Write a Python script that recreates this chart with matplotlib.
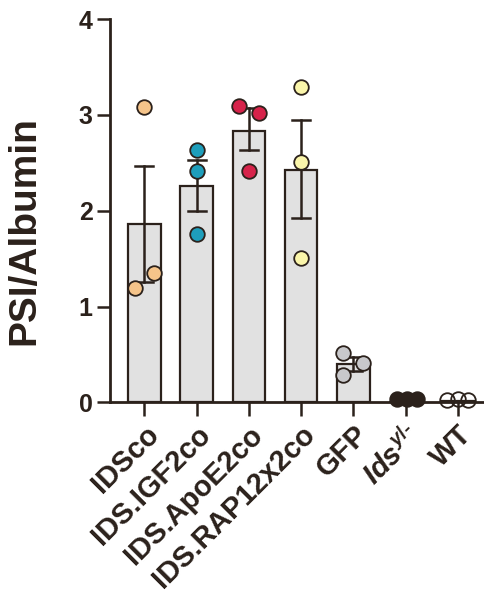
import matplotlib
matplotlib.use("Agg")
import matplotlib.pyplot as plt
import numpy as np

plt.rcParams['font.family'] = ['Liberation Sans', 'DejaVu Sans']
plt.rcParams['mathtext.fontset'] = 'custom'
plt.rcParams['mathtext.it'] = 'Liberation Sans:bold:italic'
plt.rcParams['mathtext.rm'] = 'Liberation Sans:bold'
plt.rcParams['mathtext.bf'] = 'Liberation Sans:bold'

categories = ['IDSco', 'IDS.IGF2co', 'IDS.ApoE2co', 'IDS.RAP12x2co', 'GFP', r'$Ids^{y\mathrm{/\text{-}}}$', 'WT']
means = [1.86, 2.26, 2.83, 2.43, 0.40, 0.01, 0.02]
err_hi = [2.47, 2.53, 3.07, 2.95, 0.47, 0.02, 0.03]
err_lo = [1.26, 2.00, 2.63, 1.92, 0.33, 0.00, 0.01]
points = [
    [3.08, 1.35, 1.19],
    [2.63, 2.41, 1.76],
    [3.09, 3.02, 2.41],
    [3.29, 2.51, 1.51],
    [0.52, 0.41, 0.29],
    [0.035, 0.04, 0.035],
    [0.03, 0.04, 0.03],
]
point_offsets = [
    [0.0, 0.19, -0.18],
    [0.0, 0.0, 0.0],
    [-0.18, 0.19, 0.0],
    [0.0, 0.0, 0.0],
    [-0.19, 0.18, -0.19],
    [-0.16, 0.03, 0.21],
    [-0.2, 0.0, 0.2],
]
colors = ['#F5C48A', '#1E9EBB', '#D6234A', '#FAF5AA', '#C8C8CB', '#2B211B', 'none']

dark = '#2B211B'
fig = plt.figure(figsize=(4.85, 5.96), dpi=100)
ax = fig.add_axes([0.227, 0.3247, 0.77, 0.6433])

x = np.arange(len(categories))
ax.bar(x, means, width=0.625, color='#E1E1E1', edgecolor=dark, linewidth=1.6, zorder=1)
for i in range(len(categories)):
    if i < 5:
        ax.plot([x[i], x[i]], [err_lo[i], err_hi[i]], color=dark, lw=1.8, zorder=2)
        for v in (err_lo[i], err_hi[i]):
            ax.plot([x[i] - 0.17, x[i] + 0.17], [v, v], color=dark, lw=1.8, zorder=2)
    for v, o in zip(points[i], point_offsets[i]):
        ax.plot(x[i] + o, v, 'o', ms=10.5, mfc=colors[i], mec=dark, mew=1.3,
                zorder=3, clip_on=False)

ax.set_xlim(-0.656, 6.49)
ax.set_ylim(0, 4)
ax.set_yticks([0, 1, 2, 3, 4])
ax.set_xticks(x)
ax.set_xticklabels(categories, rotation=45, ha='right', rotation_mode='anchor',
                   fontsize=21, fontweight='bold', color=dark)
for lab in ax.get_yticklabels():
    lab.set_fontsize(18)
    lab.set_fontweight('bold')
    lab.set_color(dark)
ax.tick_params(axis='x', length=10, width=1.8, color=dark, pad=3)
ax.tick_params(axis='y', length=9.5, width=1.8, color=dark, pad=3)
for s in ['top', 'right']:
    ax.spines[s].set_visible(False)
for s in ['left', 'bottom']:
    ax.spines[s].set_linewidth(2)
    ax.spines[s].set_color(dark)
ax.set_ylabel('PSI/Albumin', fontsize=28, fontweight='bold', color=dark)
ax.yaxis.set_label_coords(-0.182, 0.449)

fig.savefig('out.png', dpi=100)
